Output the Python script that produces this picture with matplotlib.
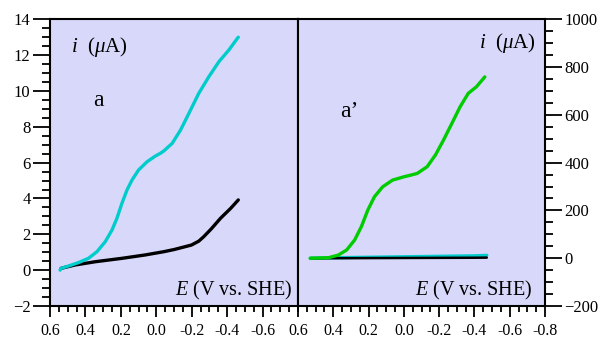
import matplotlib
matplotlib.use("Agg")
import matplotlib.pyplot as plt
from matplotlib.ticker import MultipleLocator

plt.rcParams['font.family'] = 'Liberation Serif'
plt.rcParams['mathtext.fontset'] = 'custom'
plt.rcParams['mathtext.rm'] = 'Liberation Serif'
plt.rcParams['mathtext.it'] = 'Liberation Serif:italic'

BG = '#d8d8fa'
CYAN = '#00cccc'
GREEN = '#00cc00'

# panel a (uA)
e_cyan_a = [0.543, 0.538, 0.496, 0.44, 0.383, 0.335, 0.288, 0.25, 0.222, 0.194, 0.165,
            0.137, 0.10, 0.052, 0.005, -0.023, -0.042, -0.09, -0.137, -0.184, -0.24,
            -0.297, -0.354, -0.41, -0.458, -0.463]
i_cyan_a = [0.0, 0.1, 0.23, 0.42, 0.66, 1.03, 1.59, 2.24, 2.9, 3.73, 4.48,
            5.03, 5.59, 6.05, 6.37, 6.52, 6.65, 7.08, 7.82, 8.75, 9.87,
            10.8, 11.64, 12.29, 12.94, 13.0]
e_black_a = [0.538, 0.458, 0.345, 0.194, 0.062, -0.042, -0.10, -0.198, -0.24,
             -0.268, -0.31, -0.363, -0.42, -0.463]
i_black_a = [0.1, 0.29, 0.47, 0.66, 0.85, 1.03, 1.15, 1.4, 1.62,
             1.87, 2.3, 2.9, 3.45, 3.92]

# panel a' (uA)
e_green_b = [0.531, 0.428, 0.372, 0.325, 0.279, 0.241, 0.204, 0.167, 0.12, 0.064,
             -0.001, -0.035, -0.076, -0.132, -0.179, -0.225, -0.272, -0.319, -0.365,
             -0.412, -0.459]
i_green_b = [0, 2, 13, 34, 76, 132, 202, 257, 299, 327,
             341, 347, 355, 383, 432, 495, 564, 634, 690,
             718, 759]
e_cyan_b = [0.53, 0.40, 0.20, 0.0, -0.20, -0.40, -0.47]
i_cyan_b = [0, 2, 4, 6, 8, 10, 12]
e_black_b = [0.53, 0.40, 0.20, 0.0, -0.20, -0.40, -0.47]
i_black_b = [0, 0, 0.5, 1, 1.5, 2, 2.5]

xticks_a = [0.6, 0.4, 0.2, 0.0, -0.2, -0.4, -0.6]
xticks_b = [0.6, 0.4, 0.2, 0.0, -0.2, -0.4, -0.6, -0.8]

fig = plt.figure(figsize=(6.02, 3.39), dpi=100)
ax1 = fig.add_axes([50/602, 1-306/339, 248/602, 286.7/339])
ax2 = fig.add_axes([298/602, 1-306/339, 247/602, 286.7/339])

for ax in (ax1, ax2):
    ax.set_facecolor(BG)
    ax.set_xlim(0.6, -0.8)
    for s in ax.spines.values():
        s.set_linewidth(1.5)
    ax.xaxis.set_minor_locator(MultipleLocator(0.05))
    ax.tick_params(axis='x', which='major', direction='out', length=8, width=1.3,
                   labelsize=11.5, pad=4, top=False)
    ax.tick_params(axis='x', which='minor', direction='out', length=4.5, width=1.3, top=False)

ax1.set_xticks(xticks_a)
ax1.set_xticklabels([f"{v:.1f}" for v in xticks_a])
ax2.set_xticks(xticks_b)
ax2.set_xticklabels([f"{v:.1f}" for v in xticks_b])

ax1.plot(e_black_a, i_black_a, color='black', lw=2.4, solid_capstyle='round')
ax1.plot(e_cyan_a, i_cyan_a, color=CYAN, lw=2.4, solid_capstyle='round')
ax1.set_ylim(-2, 14)
ax1.yaxis.set_major_locator(MultipleLocator(2))
ax1.yaxis.set_minor_locator(MultipleLocator(0.5))
ax1.tick_params(axis='y', which='major', direction='out', length=12, width=1.3,
                labelsize=12, pad=2, right=False)
ax1.tick_params(axis='y', which='minor', direction='out', length=6, width=1.3, right=False)

ax2.plot(e_cyan_b, i_cyan_b, color=CYAN, lw=2.4, solid_capstyle='round')
ax2.plot(e_black_b, i_black_b, color='black', lw=1.8, solid_capstyle='round')
ax2.plot(e_green_b, i_green_b, color=GREEN, lw=2.4, solid_capstyle='round')
ax2.set_ylim(-200, 1000)
ax2.yaxis.tick_right()
ax2.yaxis.set_major_locator(MultipleLocator(200))
ax2.yaxis.set_minor_locator(MultipleLocator(50))
ax2.tick_params(axis='y', which='major', direction='out', length=12, width=1.3,
                labelsize=12, pad=2, left=False, right=True)
ax2.tick_params(axis='y', which='minor', direction='out', length=6, width=1.3,
                left=False, right=True)

ax1.text(71/602, 1-52/339, r'$i$  ($\mu$A)', transform=fig.transFigure, fontsize=15,
         ha='left', va='baseline')
ax1.text(93/602, 1-106/339, 'a', transform=fig.transFigure, fontsize=17,
         ha='left', va='baseline')
ax1.text(293/602, 1-295/339, r'$E$ (V vs. SHE)', transform=fig.transFigure, fontsize=14.5,
         ha='right', va='baseline')

ax2.text(536/602, 1-48/339, r'$i$  ($\mu$A)', transform=fig.transFigure, fontsize=15,
         ha='right', va='baseline')
ax2.text(340/602, 1-117/339, 'a\u2019', transform=fig.transFigure, fontsize=17,
         ha='left', va='baseline')
ax2.text(533/602, 1-295/339, r'$E$ (V vs. SHE)', transform=fig.transFigure, fontsize=14.5,
         ha='right', va='baseline')

fig.savefig('out.png', dpi=100)
